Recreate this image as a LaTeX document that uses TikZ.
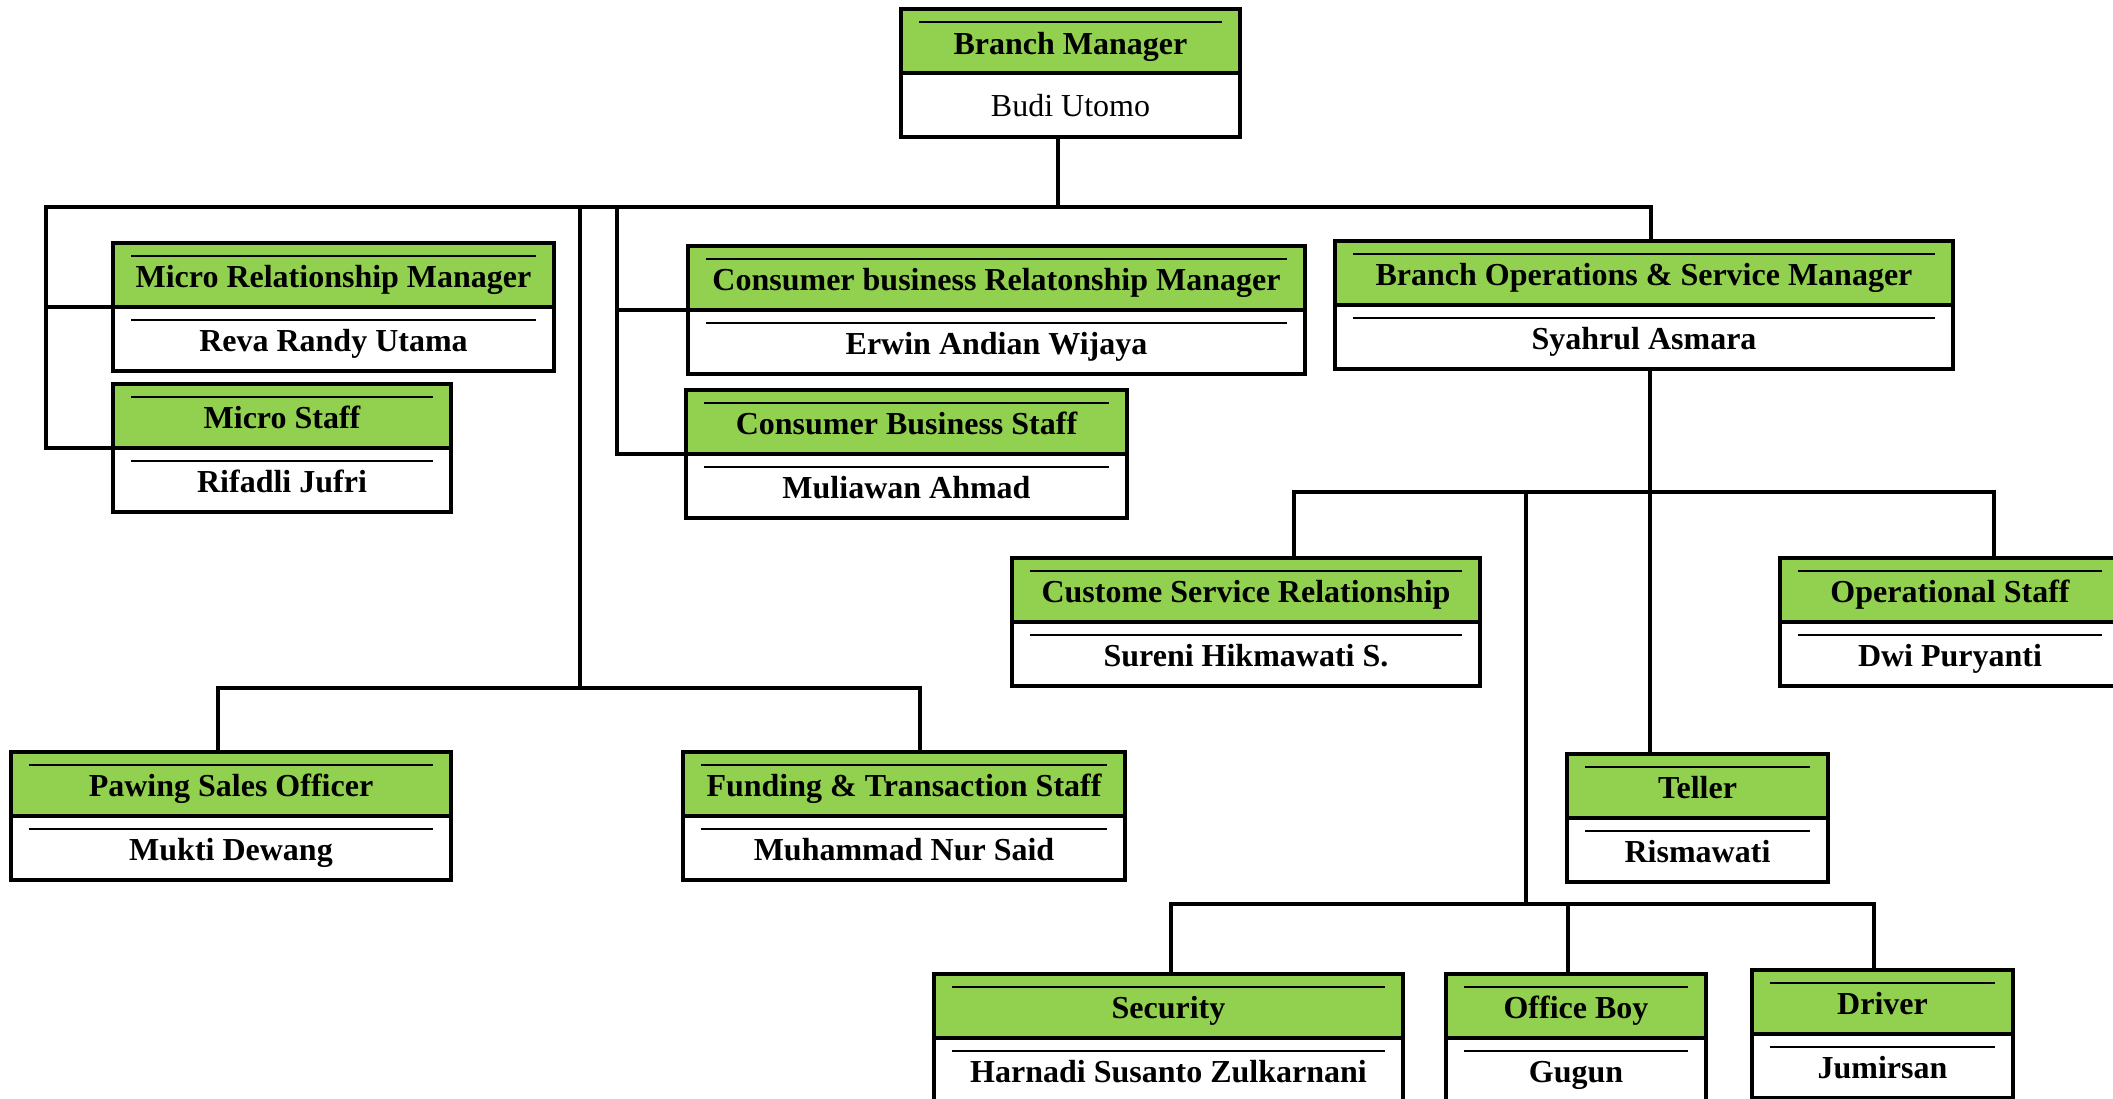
\documentclass[tikz,border=0pt]{standalone}
\usepackage{fontspec}
\setmainfont{Liberation Serif}
\definecolor{hdrgreen}{HTML}{92D050}
\tikzset{
  conn/.style={line width=1.65pt, line cap=rect},
  orgbox/.style={draw, line width=2pt, minimum height=64pt, inner sep=0pt},
  innerline/.style={line width=1pt},
  ttl/.style={anchor=base, inner sep=0pt, font=\bfseries\fontsize{16}{19}\selectfont},
  nm/.style={anchor=base, inner sep=0pt, font=\bfseries\fontsize{16}{19}\selectfont},
  nmreg/.style={anchor=base, inner sep=0pt, font=\fontsize{16}{19}\selectfont},
}
% #1 name, #2 x-left, #3 y-top, #4 x-right, #5 title, #6 person
\newcommand\orgunit[6]{%
  \fill[hdrgreen] (#2,#3) rectangle (#4,#3+64);
  \draw[innerline] (#2+18,#3+13) -- (#4-18,#3+13);
  \draw[innerline] (#2+18,#3+77) -- (#4-18,#3+77);
  \draw[line width=2pt] (#2,#3+64) -- (#4,#3+64);
  \pgfmathsetmacro\obw{(#4-#2)/2}
  \node[orgbox, minimum width=\obw pt] (#1) at ({(#2+#4)/2},#3+64) {};
  \node[ttl] (#1-t) at ({(#2+#4)/2},#3+44) {#5};
  \node[nm] (#1-p) at ({(#2+#4)/2},#3+108) {#6};
}
\begin{document}
\begin{tikzpicture}[x=0.5pt,y=-0.5pt]
\useasboundingbox (0,0) rectangle (2113,1098);
\fill[white] (0,0) rectangle (2113,1098);
\clip (0,0) rectangle (2113,1098);

% Branch manager (name in regular weight, no inner line below)
\fill[hdrgreen] (901,9) rectangle (1240,73);
\draw[innerline] (919,22) -- (1222,22);
\draw[line width=2pt] (901,73) -- (1240,73);
\node[orgbox, minimum width=169.5pt] (bm) at (1070.5,73) {};
\node[ttl] (bm-t) at (1070.5,54) {Branch Manager};
\node[nmreg] (bm-p) at (1070.5,116) {Budi Utomo};

\orgunit{mrm}{113}{243}{554}{Micro Relationship Manager}{Reva Randy Utama}
\orgunit{ms}{113}{384}{451}{Micro Staff}{Rifadli Jufri}
\orgunit{cbrm}{688}{246}{1305}{Consumer business Relatonship Manager}{Erwin Andian Wijaya}
\orgunit{cbs}{686}{390}{1127}{Consumer Business Staff}{Muliawan Ahmad}
\orgunit{bosm}{1335}{241}{1953}{Branch Operations \& Service Manager}{Syahrul Asmara}
\orgunit{csr}{1012}{558}{1480}{Custome Service Relationship}{Sureni Hikmawati S.}
\orgunit{ops}{1780}{558}{2120}{Operational Staff}{Dwi Puryanti}
\orgunit{pso}{11}{752}{451}{Pawing Sales Officer}{Mukti Dewang}
\orgunit{fts}{683}{752}{1125}{Funding \& Transaction Staff}{Muhammad Nur Said}
\orgunit{tel}{1567}{754}{1828}{Teller}{Rismawati}
\orgunit{sec}{934}{974}{1403}{Security}{Harnadi Susanto Zulkarnani}
\orgunit{ob}{1446}{974}{1706}{Office Boy}{Gugun}
\orgunit{drv}{1752}{970}{2013}{Driver}{Jumirsan}

% bus junctions
\coordinate (tb) at (1058,207);
\coordinate (tl) at (46,207);
\coordinate (tr) at (1651,207);
\coordinate (v1) at (580,207);
\coordinate (v2) at (617,207);
\coordinate (lbl) at (218,688);
\coordinate (lbm) at (580,688);
\coordinate (lbr) at (920,688);
\coordinate (rb) at (1650,492);
\coordinate (rbl) at (1294,492);
\coordinate (rv) at (1526,492);
\coordinate (rbr) at (1994,492);
\coordinate (bb) at (1526,904);
\coordinate (bbl) at (1171,904);
\coordinate (bbm) at (1568,904);
\coordinate (bbr) at (1874,904);

% connectors
\draw[conn] (bm.south -| tb) -- (tb);
\draw[conn] (tl) -- (tr) -- (bosm.north -| tr);
\draw[conn] (mrm.west) -| (tl);
\draw[conn] (ms.west) -| (tl);
\draw[conn] (cbrm.west) -| (v2);
\draw[conn] (cbs.west) -| (v2);
\draw[conn] (v1) -- (lbm);
\draw[conn] (pso.north -| lbl) -- (lbl) -- (lbr) -- (fts.north -| lbr);
\draw[conn] (bosm.south -| rb) -- (tel.north -| rb);
\draw[conn] (csr.north -| rbl) -- (rbl) -- (rbr) -- (ops.north -| rbr);
\draw[conn] (rv) -- (bb);
\draw[conn] (sec.north -| bbl) -- (bbl) -- (bbr) -- (drv.north -| bbr);
\draw[conn] (bbm) -- (ob.north -| bbm);
\end{tikzpicture}
\end{document}
